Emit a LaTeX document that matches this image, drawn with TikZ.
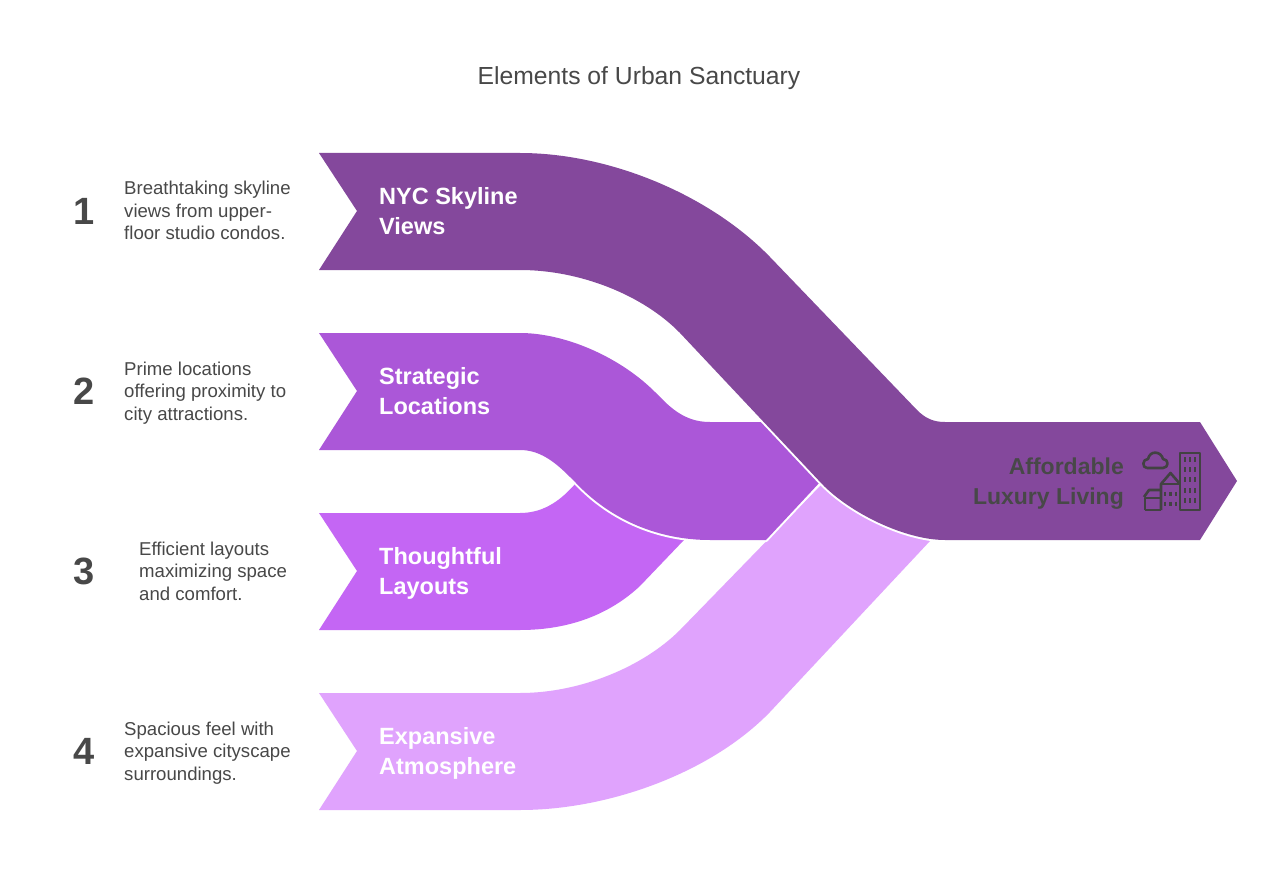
\documentclass[tikz,border=0pt]{standalone}
\usepackage{fontspec}
\setmainfont{Liberation Sans}
\usetikzlibrary{positioning}
\definecolor{bandone}{HTML}{84489C}
\definecolor{bandtwo}{HTML}{AB57D8}
\definecolor{bandthree}{HTML}{C466F4}
\definecolor{bandfour}{HTML}{E0A3FD}
\definecolor{inkgrey}{HTML}{484848}
\definecolor{iconink}{HTML}{424242}
\tikzset{
  band/.style={preaction={draw=white, line width=4pt, line join=round}},
  bandtext/.style={anchor=west, align=left, inner sep=0pt, text height=53pt, text depth=6pt, text=white, font=\fontsize{23.5}{30}\selectfont\bfseries},
  numtext/.style={text=inkgrey, inner sep=0pt, font=\fontsize{38}{44}\selectfont\bfseries},
  desctext/.style={anchor=west, align=left, inner sep=0pt, text height=64pt, text depth=6pt, text=inkgrey, font=\fontsize{18.6}{22.5}\selectfont},
  iconline/.style={draw=iconink, line width=2.6pt, line join=round},
  iconwin/.style={draw=iconink, line width=2.6pt}
}
\begin{document}
\begin{tikzpicture}[x=1pt, y=-1pt]
  \useasboundingbox (0, 0) rectangle (1278, 888);
  \fill [white] (0, 0) rectangle (1278, 888);

  \node [text=inkgrey, font=\fontsize{24.7}{28}\selectfont] (title) at (639, 78) {Elements of Urban Sanctuary};

  % bands, lowest first
  \path [band, fill=bandfour] (319, 693) -- (520, 693)
    .. controls (580, 693) and (643, 667) .. (680, 630) -- (822, 484) -- (930, 541) -- (770, 712)
    .. controls (712, 772) and (610, 810) .. (520, 810) -- (319, 810) -- (357, 751) -- cycle;
  \path [band, fill=bandthree] (319, 513) -- (520, 513)
    .. controls (545, 513) and (562, 499) .. (576, 483) -- (684, 540) -- (640, 586)
    .. controls (610, 614) and (570, 630) .. (520, 630) -- (319, 630) -- (357, 571) -- cycle;
  \path [band, fill=bandtwo] (319, 333) -- (520, 333)
    .. controls (565, 333) and (620, 357) .. (655, 392) -- (663, 400)
    .. controls (678, 415) and (692, 422) .. (710, 422) -- (763, 422) -- (821, 481) -- (766, 540) -- (710, 540)
    .. controls (660, 540) and (612, 521) .. (576, 483) -- (570, 477)
    .. controls (555, 462) and (540, 450) .. (520, 450) -- (319, 450) -- (357, 391) -- cycle;
  \path [band, fill=bandone] (319, 153) -- (520, 153)
    .. controls (610, 153) and (710, 195) .. (770, 257) -- (917, 410)
    .. controls (925, 418) and (933, 422) .. (945, 422) -- (1200, 422) -- (1237, 481) -- (1200, 540) -- (945, 540)
    .. controls (905, 540) and (850, 513) .. (822, 484) -- (680, 333)
    .. controls (643, 295) and (580, 270) .. (520, 270) -- (319, 270) -- (357, 211) -- cycle;

  % band labels
  \node [bandtext] (skyline) at (379, 211) {NYC Skyline\\Views};
  \node [bandtext] (locations) at (379, 391) {Strategic\\Locations};
  \node [bandtext] (layouts) at (379, 571) {Thoughtful\\Layouts};
  \node [bandtext] (atmosphere) at (379, 751) {Expansive\\Atmosphere};
  \node [bandtext, anchor=east, align=right, text=inkgrey, font=\fontsize{23}{30}\selectfont\bfseries] (luxury) at (1124, 481) {Affordable\\Luxury Living};

  % numbers and descriptions
  \node [numtext] (num1) at (84, 211) {1};
  \node [numtext] (num2) at (84, 391) {2};
  \node [numtext] (num3) at (84, 571) {3};
  \node [numtext] (num4) at (84, 751) {4};
  \node [desctext] (desc1) at (124, 211) {Breathtaking skyline\\views from upper-\\floor studio condos.};
  \node [desctext] (desc2) at (124, 391) {Prime locations\\offering proximity to\\city attractions.};
  \node [desctext] (desc3) at (139, 571) {Efficient layouts\\maximizing space\\and comfort.};
  \node [desctext] (desc4) at (124, 751) {Spacious feel with\\expansive cityscape\\surroundings.};

  % city icon
  \draw [iconline] (1180, 453) rectangle (1200, 510);
  \draw [iconline] (1161, 510) -- (1161, 484) -- (1170.5, 473) -- (1180, 484);
  \draw [iconline] (1161, 484) -- (1180, 484);
  \draw [iconline] (1145, 510) -- (1161, 510);
  \draw [iconline] (1145, 510) -- (1145, 498) -- (1161, 498);
  \draw [iconline] (1144, 497) -- (1149, 490) -- (1161, 490);
  \draw [iconline] (1147, 468) -- (1163, 468)
    .. controls (1169, 468) and (1169, 459) .. (1163, 459)
    .. controls (1161, 451) and (1150, 450) .. (1148, 459)
    .. controls (1142, 459) and (1142, 468) .. (1147, 468);
  \foreach \wy in {457, 467, 477, 488, 498} {
    \foreach \wx in {1185, 1190, 1195} {
      \draw [iconwin] (\wx, \wy) -- +(0, 4.5);
    }
  }
  \foreach \wy in {491.5, 501.5} {
    \foreach \wx in {1165, 1170.5, 1176} {
      \draw [iconwin] (\wx, \wy) -- +(0, 4.5);
    }
  }
\end{tikzpicture}
\end{document}
